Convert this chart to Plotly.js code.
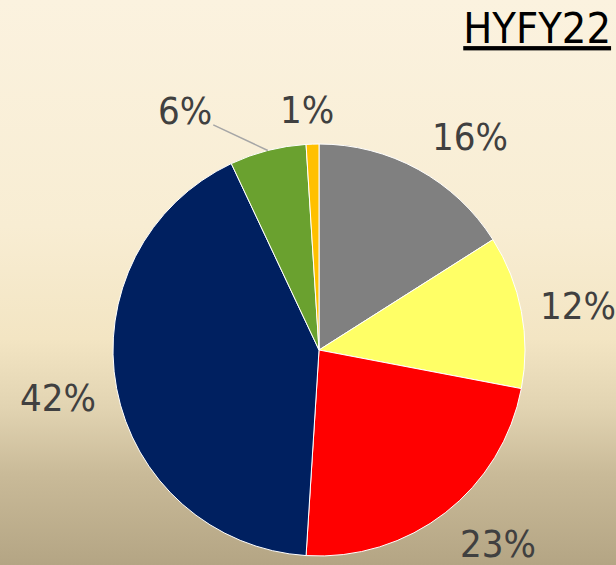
<!DOCTYPE html>
<html>
<head>
<meta charset="utf-8">
<script src="https://cdn.plot.ly/plotly-3.0.1.min.js"></script>
<style>
html,body{margin:0;padding:0;}
body{width:616px;height:565px;overflow:hidden;
background:linear-gradient(to bottom,#FBF2DF 0%,#F8EDD3 40%,#F3E5C3 60%,#E2D4B2 72%,#C9BA98 84%,#B4A584 100%);}
#chart{width:616px;height:565px;}
</style>
</head>
<body>
<div id="chart"></div>
<script>
// ---- data ----
const categories = ["A","B","C","D","E","F"];
const values = [16, 12, 23, 42, 6, 1];
const titleText = "HYFY22";

// ---- styles ----
const colors = ["#808080","#FFFF66","#FF0000","#002060","#6AA12F","#FFC000"];
// text offset (px) of each label from the rim point at its slice's middle angle
const labelOffsetX = [52, 57, 53, -59, -83, -6];
const labelOffsetY = [-32, -5, 31, 9, -39, -34];
const labelLeader = [false, false, false, false, true, false];

const W = 616, H = 565;
const cx = 319, cy = 350, R = 206;
const font = "DejaVu Sans Condensed, DejaVu Sans, sans-serif";

const trace = {
  type: "pie",
  labels: categories,
  values: values,
  sort: false,
  direction: "clockwise",
  rotation: 0,
  marker: {colors: colors, line: {color: "#FFFFFF", width: 1}},
  textinfo: "none",
  automargin: false,
  showlegend: false,
  hoverinfo: "none",
  domain: {x: [(cx - R) / W, (cx + R) / W], y: [1 - (cy + R) / H, 1 - (cy - R) / H]}
};

const total = values.reduce((a, b) => a + b, 0);
let cum = 0;
const annotations = values.map((v, i) => {
  const mid = (cum + v / 2) / total * 2 * Math.PI;
  cum += v;
  const px = cx + R * Math.sin(mid);
  const py = cy - R * Math.cos(mid);
  return {
    x: px / W, y: 1 - py / H, xref: "paper", yref: "paper",
    text: Math.round(v / total * 100) + "%",
    showarrow: true, arrowhead: 0, standoff: 0,
    arrowwidth: 1.5,
    arrowcolor: labelLeader[i] ? "#A6A6A6" : "rgba(0,0,0,0)",
    ax: labelOffsetX[i], ay: labelOffsetY[i],
    font: {family: font, size: 38, color: "#404040"}
  };
});

const layout = {
  width: W, height: H,
  margin: {l: 0, r: 0, t: 0, b: 0},
  paper_bgcolor: "rgba(0,0,0,0)",
  plot_bgcolor: "rgba(0,0,0,0)",
  title: {
    text: titleText,
    x: 0.992, xanchor: "right", xref: "container",
    y: 0.977, yanchor: "top", yref: "container",
    font: {family: font, size: 43, color: "#000000", lineposition: "under"}
  },
  annotations: annotations
};

Plotly.newPlot("chart", [trace], layout, {staticPlot: true, displayModeBar: false});
</script>
</body>
</html>
